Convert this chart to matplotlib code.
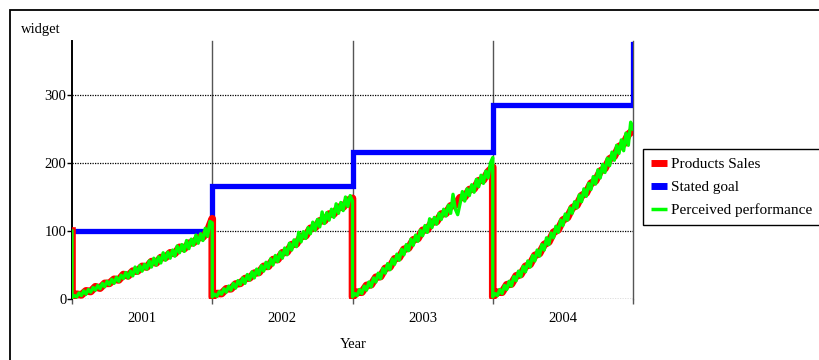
import numpy as np
import matplotlib
matplotlib.use("Agg")
from matplotlib import pyplot as plt
from matplotlib.lines import Line2D
from matplotlib.patches import Rectangle

plt.rcParams["font.family"] = ["Liberation Serif", "DejaVu Serif"]

years = [2001, 2002, 2003, 2004]
year_labels = ["2001", "2002", "2003", "2004"]
start_value = 100

# stated goal level for each year, plus the level set at the end of the run
goal_levels = [100, 166, 216, 286]
goal_final = 375

# products sales, cumulative within each year (30 steps per year)
sales_2001 = [2, 7, 6, 12, 11, 18, 16, 23, 23, 29, 28, 36, 34, 41, 41, 48,
              47, 55, 53, 61, 61, 68, 67, 76, 74, 82, 83, 90, 91, 100, 118]
sales_2002 = [3, 8, 8, 15, 15, 22, 23, 30, 31, 38, 39, 48, 48, 58, 58, 68,
              69, 80, 81, 92, 93, 104, 105, 115, 115, 125, 125, 135, 135, 145, 148]
sales_2003 = [3, 10, 10, 20, 21, 32, 33, 45, 47, 59, 61, 73, 75, 87, 89, 101,
              102, 113, 114, 125, 126, 137, 138, 149, 150, 161, 162, 174, 175, 187, 194]
sales_2004 = [3, 10, 10, 21, 22, 34, 36, 48, 51, 64, 67, 80, 84, 98, 102, 116,
              120, 134, 138, 152, 156, 170, 174, 188, 192, 206, 210, 224, 228, 242, 248]

# perceived performance, noisy reading of sales (60 steps per year)
perceived_2001 = [2, 5, 3, 9, 5, 12, 7, 14, 10, 17,
                  13, 20, 15, 23, 18, 26, 21, 29, 23, 32,
                  26, 35, 30, 39, 31, 41, 34, 47, 38, 49,
                  41, 51, 44, 56, 47, 60, 50, 62, 53, 68,
                  57, 69, 60, 72, 63, 78, 68, 80, 70, 86,
                  74, 88, 79, 94, 82, 96, 86, 104, 92, 114, 112]
perceived_2002 = [3, 7, 4, 11, 7, 15, 10, 19, 13, 23,
                  16, 27, 21, 31, 23, 36, 28, 40, 31, 44,
                  36, 49, 41, 54, 45, 59, 50, 64, 55, 69,
                  60, 75, 65, 82, 72, 87, 77, 98, 84, 99,
                  89, 105, 96, 113, 101, 117, 106, 128, 111, 127,
                  116, 132, 120, 140, 126, 142, 130, 150, 136, 152, 144]
perceived_2003 = [3, 8, 5, 14, 8, 19, 13, 25, 18, 31,
                  25, 38, 30, 45, 38, 52, 43, 59, 51, 66,
                  57, 73, 65, 80, 71, 88, 79, 94, 85, 101,
                  93, 108, 98, 118, 105, 120, 110, 126, 117, 132,
                  122, 138, 126, 154, 132, 124, 140, 158, 144, 162,
                  152, 168, 157, 176, 165, 182, 170, 188, 178, 200, 208]
perceived_2004 = [3, 8, 5, 14, 8, 20, 14, 26, 19, 33,
                  27, 41, 33, 48, 40, 56, 47, 64, 56, 72,
                  63, 80, 72, 90, 80, 97, 90, 107, 98, 116,
                  108, 125, 116, 134, 126, 143, 134, 153, 143, 162,
                  151, 170, 161, 180, 169, 190, 178, 198, 186, 207,
                  196, 216, 204, 226, 214, 234, 218, 244, 226, 260, 250]

sales = [sales_2001, sales_2002, sales_2003, sales_2004]
perceived = [perceived_2001, perceived_2002, perceived_2003, perceived_2004]


def join_years(series):
    t = [years[0]]
    v = [start_value]
    for year, vals in zip(years, series):
        t.extend(np.linspace(year, year + 1, len(vals)))
        v.extend(vals)
    return np.array(t), np.array(v)


W, H = 819, 360
fig = plt.figure(figsize=(W / 100, H / 100), dpi=100)
ax = fig.add_axes([72 / W, 1 - 299 / H, (633 - 72) / W, (299 - 41) / H])

red = "#ff0000"
blue = "#0000ff"
green = "#00ff00"

goal_t = years + [years[-1] + 1]
goal_v = goal_levels + [goal_final]
ax.plot(goal_t, goal_v, drawstyle="steps-post", color=blue, lw=3.8,
        solid_joinstyle="miter", zorder=3)

t, v = join_years(sales)
ax.plot(t, v, color=red, lw=5.5, zorder=4)
t, v = join_years(perceived)
ax.plot(t, v, color=green, lw=2.4, zorder=5)

ax.set_xlim(2001, 2005)
ax.set_ylim(0, 379.4)

ax.set_xticks(goal_t)
ax.set_xticklabels([])
ax.set_xticks([y + 0.5 for y in years], minor=True)
ax.set_xticklabels(year_labels, minor=True)
ax.tick_params(axis="x", which="major", direction="out", length=3.5,
               color="#555555", width=1)
ax.tick_params(axis="x", which="minor", length=0, pad=9, labelsize=10.5)
ax.set_yticks([0, 100, 200, 300])
ax.tick_params(axis="y", direction="out", length=3.5, width=1, color="black",
               labelsize=10.5, pad=0.5)

for x in goal_t[1:]:
    ax.axvline(x, color="#555555", lw=1, zorder=1, clip_on=False)
for y in [0, 100, 200, 300]:
    ax.axhline(y, color="black", lw=0.9, ls=(0, (1, 1)), zorder=1)

for side in ["top", "right", "bottom"]:
    ax.spines[side].set_visible(False)
ax.spines["left"].set_linewidth(1.4)
ax.spines["left"].set_color("black")

fig.text(21 / W, 1 - 30 / H, "widget", fontsize=10.5, va="center", ha="left")
fig.text(353 / W, 1 - 344 / H, "Year", fontsize=10.5, va="center", ha="center")

# outer frame around the whole chart
fig.add_artist(Rectangle((10 / W, -0.1), 1.2, 1.1 - 10 / H,
                         transform=fig.transFigure, fill=False,
                         edgecolor="black", lw=1.3))

handles = [
    Line2D([], [], color=red, lw=5, solid_capstyle="butt"),
    Line2D([], [], color=blue, lw=5, solid_capstyle="butt"),
    Line2D([], [], color=green, lw=2.5, solid_capstyle="butt"),
]
labels = ["Products Sales", "Stated goal", "Perceived performance"]
leg = fig.legend(handles, labels, loc="upper left",
                 bbox_to_anchor=(643 / W, 1 - 149 / H), borderaxespad=0,
                 fancybox=False, framealpha=1, edgecolor="black",
                 fontsize=11, handlelength=1.0, handletextpad=0.3,
                 labelspacing=0.6, borderpad=0.55)
leg.get_frame().set_linewidth(1.0)

fig.savefig("out.png", dpi=100)
